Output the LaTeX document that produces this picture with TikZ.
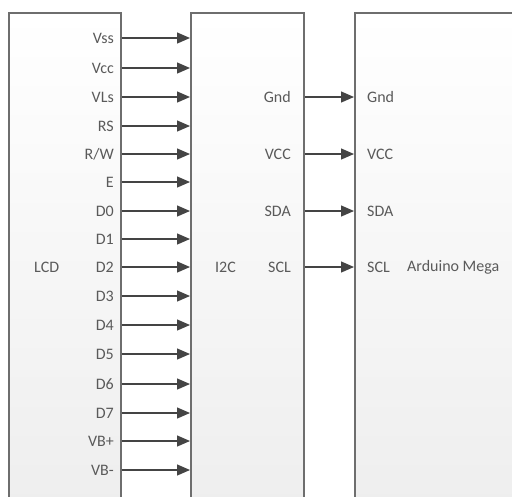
\documentclass[tikz,border=0pt]{standalone}
\usepackage{fontspec}
\setmainfont{Carlito}
\usetikzlibrary{arrows.meta}
\definecolor{txt}{HTML}{5A5A5A}
\definecolor{edge}{HTML}{6E6E6E}
\definecolor{wire}{HTML}{444444}
\tikzset{
  box/.style={draw=edge, line width=1.7pt, top color=white, bottom color=black!7,
    minimum height=520pt, anchor=north west, inner sep=0pt},
  pin/.style={draw=wire, line width=1.3pt, -{Triangle[length=13pt,width=11pt]}},
  lbl/.style={text=txt, font=\fontsize{16}{18}\selectfont, inner sep=0pt},
}
\begin{document}
\begin{tikzpicture}[x=1pt,y=-1pt]
\useasboundingbox (0,0) rectangle (512,496);
\clip (0,0) rectangle (512,496);
\fill[white] (0,0) rectangle (512,496);
\node[box, minimum width=112pt] (lcd) at (8,12) {};
\node[box, minimum width=113pt] (i2c) at (190,12) {};
\node[box, minimum width=200pt] (ard) at (354,12) {};
\node[lbl, anchor=west] (lcdname) at (34,267) {LCD};
\node[lbl, anchor=west] (i2cname) at (215,267) {I2C};
\node[lbl, anchor=west] (ardname) at (407,267) {Arduino Mega};
\foreach \t/\y [count=\i] in {Vss/38,Vcc/68,VLs/97,RS/126,{R/W}/154,E/182,D0/211,D1/239,D2/267,D3/296,D4/325,D5/354,D6/384,D7/413,VB+/441,VB-/470}{
  \node[lbl, anchor=east] (l\i) at (114,\y) {\t};
  \coordinate (la\i) at (lcd.east |- 0,\y);
  \coordinate (ia\i) at (i2c.west |- 0,\y);
  \draw[pin] (la\i) -- (ia\i);
}
\foreach \a/\b/\y [count=\i] in {Gnd/Gnd/97,VCC/VCC/154,SDA/SDA/211,SCL/SCL/267}{
  \node[lbl, anchor=east] (o\i) at (291,\y) {\a};
  \node[lbl, anchor=west] (r\i) at (367,\y) {\b};
  \coordinate (ob\i) at (i2c.east |- 0,\y);
  \coordinate (rb\i) at (ard.west |- 0,\y);
  \draw[pin] (ob\i) -- (rb\i);
}
\end{tikzpicture}
\end{document}
